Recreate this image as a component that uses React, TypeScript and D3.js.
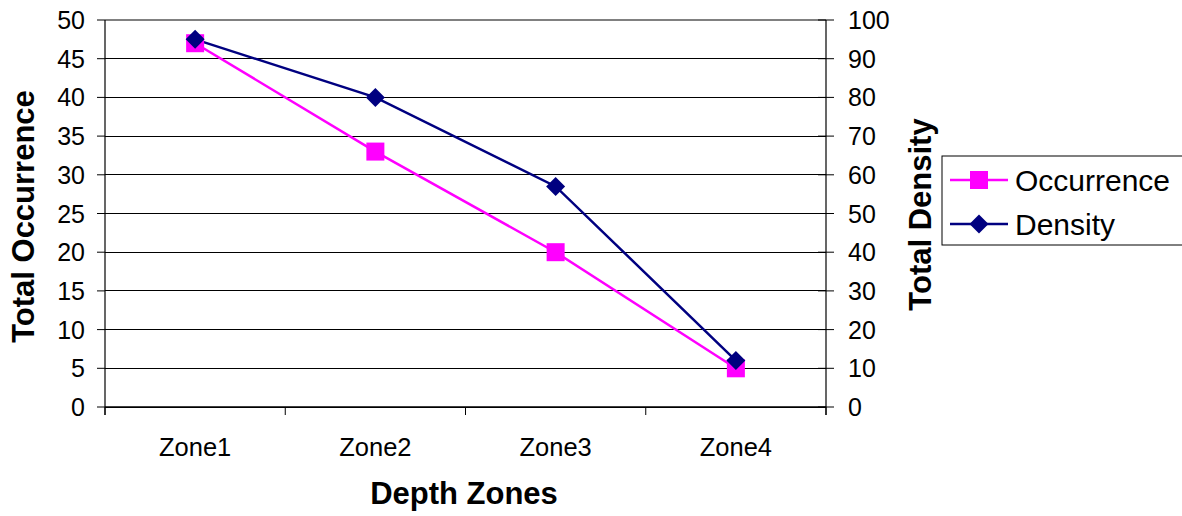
import * as d3 from "d3";

const zones = ["Zone1", "Zone2", "Zone3", "Zone4"];
const occurrence = [47, 33, 20, 5];
const density = [95, 80, 57, 12];
const leftTicks = [0, 5, 10, 15, 20, 25, 30, 35, 40, 45, 50];
const rightTicks = [0, 10, 20, 30, 40, 50, 60, 70, 80, 90, 100];

const W = 1182;
const H = 516;
const plot = { left: 105, right: 826, top: 20, bottom: 407 };
const font = "'Liberation Sans', Arial, Helvetica, sans-serif";
const pink = "#FF00FF";
const navy = "#000080";

const App = () => {
  const x = d3
    .scaleBand<string>()
    .domain(zones)
    .range([plot.left, plot.right])
    .padding(0);
  const yL = d3.scaleLinear([0, 50], [plot.bottom, plot.top]);
  const yR = d3.scaleLinear([0, 100], [plot.bottom, plot.top]);
  const cx = (z: string) => (x(z) ?? 0) + x.bandwidth() / 2;

  const occLine = d3
    .line<number>()
    .x((_, i) => cx(zones[i]))
    .y((d) => yL(d));
  const denLine = d3
    .line<number>()
    .x((_, i) => cx(zones[i]))
    .y((d) => yR(d));

  const boundaries = zones.map((z) => x(z) ?? 0).concat([plot.right]);
  const sq = 9;
  const dm = 9.5;
  const diamond = (px: number, py: number) =>
    `M${px},${py - dm}L${px + dm},${py}L${px},${py + dm}L${px - dm},${py}Z`;

  return (
    <svg
      width={W}
      height={H}
      style={{ position: "absolute", left: 0, top: 0, background: "#fff" }}
      fontFamily={font}
    >
      {/* gridlines */}
      {leftTicks.map((t) => (
        <line
          key={"g" + t}
          x1={plot.left}
          x2={plot.right}
          y1={yL(t)}
          y2={yL(t)}
          stroke={t === 50 ? "#808080" : "#000"}
          strokeWidth={t === 50 ? 1.5 : 1}
          shapeRendering="crispEdges"
        />
      ))}
      {/* left axis */}
      <line x1={plot.left} x2={plot.left} y1={plot.top} y2={plot.bottom + 8} stroke="#000" strokeWidth={1.2} />
      {leftTicks.map((t) => (
        <g key={"lt" + t}>
          <line x1={plot.left - 8} x2={plot.left} y1={yL(t)} y2={yL(t)} stroke="#000" strokeWidth={1} />
          <text x={85} y={yL(t)} dy="0.36em" textAnchor="end" fontSize={25}>
            {t}
          </text>
        </g>
      ))}
      {/* right axis */}
      <line x1={plot.right} x2={plot.right} y1={plot.top} y2={plot.bottom + 8} stroke="#000" strokeWidth={1.2} />
      {rightTicks.map((t) => (
        <g key={"rt" + t}>
          <line x1={plot.right - 8} x2={plot.right + 8} y1={yR(t)} y2={yR(t)} stroke="#000" strokeWidth={1} />
          <text x={848} y={yR(t)} dy="0.36em" textAnchor="start" fontSize={25}>
            {t}
          </text>
        </g>
      ))}
      {/* bottom axis */}
      <line x1={plot.left} x2={plot.right} y1={plot.bottom} y2={plot.bottom} stroke="#000" strokeWidth={1.5} />
      {boundaries.map((b, i) => (
        <line key={"bt" + i} x1={b} x2={b} y1={plot.bottom} y2={plot.bottom + 8} stroke="#000" strokeWidth={1} />
      ))}
      {zones.map((z) => (
        <text key={z} x={cx(z)} y={456} textAnchor="middle" fontSize={25.5}>
          {z}
        </text>
      ))}
      {/* titles */}
      <text x={464} y={504} textAnchor="middle" fontSize={31} fontWeight="bold">
        Depth Zones
      </text>
      <text
        transform={`translate(34,${(plot.top + plot.bottom) / 2 + 3}) rotate(-90)`}
        textAnchor="middle"
        fontSize={31}
        fontWeight="bold"
      >
        Total Occurrence
      </text>
      <text
        transform={`translate(931,${(plot.top + plot.bottom) / 2 + 1}) rotate(-90)`}
        textAnchor="middle"
        fontSize={31}
        fontWeight="bold"
      >
        Total Density
      </text>
      {/* series */}
      <path d={occLine(occurrence) ?? ""} fill="none" stroke={pink} strokeWidth={2.5} />
      <path d={denLine(density) ?? ""} fill="none" stroke={navy} strokeWidth={2.5} />
      {occurrence.map((v, i) => (
        <rect key={"o" + i} x={cx(zones[i]) - sq} y={yL(v) - sq} width={sq * 2} height={sq * 2} fill={pink} />
      ))}
      {density.map((v, i) => (
        <path key={"d" + i} d={diamond(cx(zones[i]), yR(v))} fill={navy} />
      ))}
      {/* legend */}
      <rect x={942} y={156} width={260} height={89} fill="#fff" stroke="#000" strokeWidth={1} />
      <line x1={950} x2={1008} y1={180} y2={180} stroke={pink} strokeWidth={2.5} />
      <rect x={979 - sq} y={180 - sq} width={sq * 2} height={sq * 2} fill={pink} />
      <text x={1015} y={180} dy="0.36em" fontSize={30}>
        Occurrence
      </text>
      <line x1={950} x2={1008} y1={224} y2={224} stroke={navy} strokeWidth={2.5} />
      <path d={diamond(979, 224)} fill={navy} />
      <text x={1015} y={224} dy="0.36em" fontSize={30}>
        Density
      </text>
    </svg>
  );
};

export default App;
